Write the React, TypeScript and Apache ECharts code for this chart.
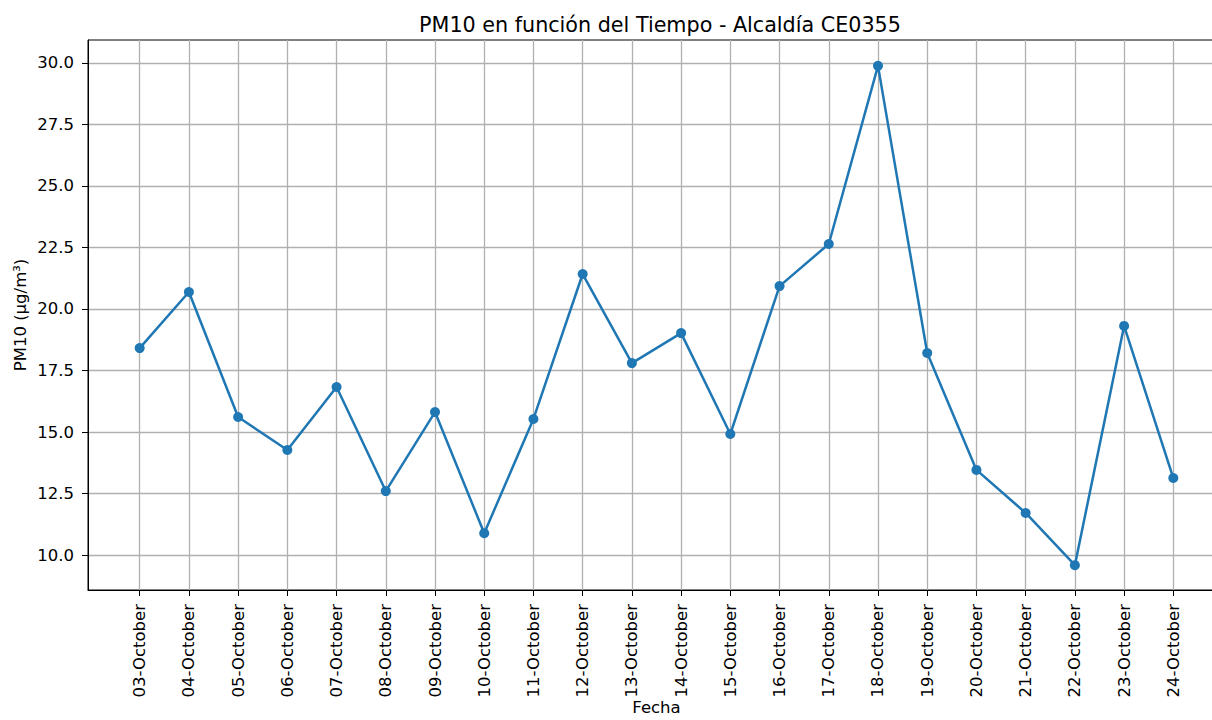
import React, { useEffect, useRef } from "react";
import * as echarts from "echarts";

const categories = [
  "03-October", "04-October", "05-October", "06-October", "07-October", "08-October",
  "09-October", "10-October", "11-October", "12-October", "13-October", "14-October",
  "15-October", "16-October", "17-October", "18-October", "19-October", "20-October",
  "21-October", "22-October", "23-October", "24-October",
];
const pm10 = [
  18.41, 20.69, 15.61, 14.27, 16.83, 12.6, 15.81, 10.89, 15.53, 21.42, 17.8, 19.02,
  14.92, 20.93, 22.64, 29.88, 18.21, 13.46, 11.71, 9.59, 19.31, 13.13,
];
const yTicks = [10, 12.5, 15, 17.5, 20, 22.5, 25, 27.5, 30];

const FONT = "DejaVu Sans";

export default function App() {
  const ref = useRef<HTMLDivElement>(null);
  useEffect(() => {
    if (!ref.current) return;
    const chart = echarts.init(ref.current, undefined, { renderer: "svg" });
    const xTicks = categories.map((_, i) => i);
    chart.setOption({
      animation: false,
      backgroundColor: "#fff",
      title: {
        text: "PM10 en función del Tiempo - Alcaldía CE0355",
        left: 655,
        top: 9,
        textAlign: "center",
        textStyle: { fontFamily: FONT, fontSize: 20.7, fontWeight: "normal", color: "#000" },
      },
      grid: {
        left: 88,
        top: 40,
        width: 1137,
        height: 550,
        show: true,
        borderColor: "#000",
        borderWidth: 1,
        backgroundColor: "transparent",
        containLabel: false,
        outerBoundsMode: "none",
      },
      xAxis: {
        type: "value",
        min: -1.05,
        max: 22.05,
        name: "Fecha",
        nameLocation: "middle",
        nameGap: 108,
        nameMoveOverlap: false,
        nameTextStyle: { fontFamily: FONT, fontSize: 16.5, lineHeight: 18, color: "#000" },
        axisLine: { show: true, onZero: false, lineStyle: { color: "#000", width: 1 } },
        axisTick: { show: true, length: 6, lineStyle: { color: "#000", width: 1 }, customValues: xTicks },
        axisLabel: {
          customValues: xTicks,
          rotate: 90,
          margin: 14,
          fontFamily: FONT,
          fontSize: 16.5,
          color: "#000",
          formatter: (v: number) => categories[Math.round(v)] ?? "",
        },
        splitLine: { show: true, lineStyle: { color: "#b0b0b0", width: 1.3 } },
      },
      yAxis: {
        type: "value",
        min: 8.58,
        max: 30.93,
        name: "PM10 (µg/m³)",
        nameLocation: "middle",
        nameGap: 59,
        nameMoveOverlap: false,
        nameTextStyle: { fontFamily: FONT, fontSize: 16.5, color: "#000" },
        axisLine: { show: true, onZero: false, lineStyle: { color: "#000", width: 1 } },
        axisTick: { show: true, length: 6, lineStyle: { color: "#000", width: 1 }, customValues: yTicks },
        axisLabel: {
          customValues: yTicks,
          margin: 14,
          fontFamily: FONT,
          fontSize: 16.5,
          color: "#000",
          formatter: (v: number) => v.toFixed(1),
        },
        splitLine: { show: true, lineStyle: { color: "#b0b0b0", width: 1.3 } },
      },
      series: [
        {
          type: "line",
          data: pm10.map((v, i) => [i, v]),
          symbol: "circle",
          symbolSize: 10,
          itemStyle: { color: "#1f77b4" },
          lineStyle: { color: "#1f77b4", width: 2.5 },
          clip: false,
        },
      ],
    });
    return () => chart.dispose();
  }, []);
  return (
    <div
      ref={ref}
      style={{ position: "fixed", left: 0, top: 0, width: 1212, height: 720 }}
    />
  );
}
